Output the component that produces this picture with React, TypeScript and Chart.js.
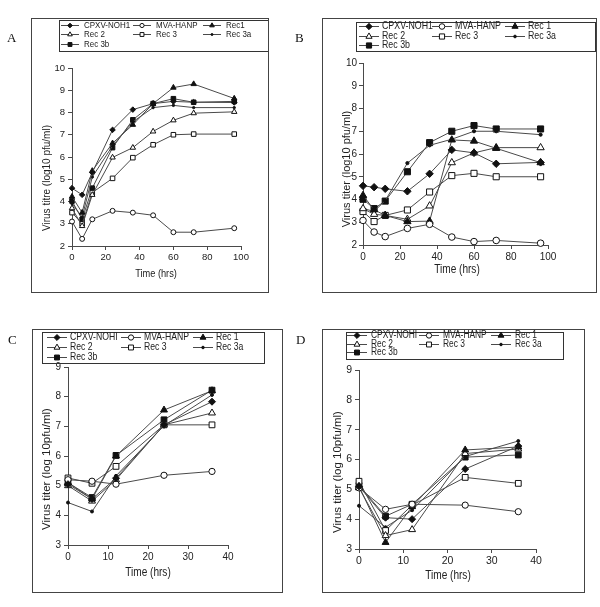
import React, { useEffect, useRef } from "react";
import { Chart, registerables } from "chart.js";
import { drawPoint } from "chart.js/helpers";
Chart.register(...registerables);

const SANS = '"Liberation Sans", Arial, sans-serif';
const XSCALE = 0.84;

// ---------- data ----------
const hoursLong = [0, 6, 12, 24, 36, 48, 60, 72, 96];
const hoursShort = [0, 6, 12, 24, 36];

const labelsA = ["CPXV-NOH1", "MVA-HANP", "Rec1", "Rec 2", "Rec 3", "Rec 3a", "Rec 3b"];
const labelsB = ["CPXV-NOH1", "MVA-HANP", "Rec 1", "Rec 2", "Rec 3", "Rec 3a", "Rec 3b"];
const labelsCD = ["CPXV-NOHI", "MVA-HANP", "Rec 1", "Rec 2", "Rec 3", "Rec 3a", "Rec 3b"];

// Panel A
const aCPXV = [4.6, 4.3, 5.3, 7.22, 8.13, 8.4, 8.5, 8.46, 8.45];
const aMVA = [3.1, 2.32, 3.2, 3.58, 3.5, 3.38, 2.62, 2.62, 2.8];
const aRec1 = [4.22, 3.5, 5.38, 6.62, 7.45, 8.4, 9.12, 9.28, 8.63];
const aRec2 = [3.7, 2.9, 4.3, 5.98, 6.42, 7.15, 7.65, 7.97, 8.03];
const aRec3 = [3.5, 3.0, 4.4, 5.04, 5.97, 6.55, 7.0, 7.03, 7.03];
const aRec3a = [3.9, 3.3, 5.1, 6.5, 7.58, 8.22, 8.32, 8.22, 8.22];
const aRec3b = [4.02, 3.2, 4.6, 6.42, 7.67, 8.4, 8.62, 8.46, 8.5];

// Panel B
const bCPXV = [4.6, 4.54, 4.47, 4.36, 5.13, 6.18, 6.05, 5.57, 5.63];
const bMVA = [3.08, 2.57, 2.37, 2.73, 2.91, 2.35, 2.15, 2.2, 2.08];
const bRec1 = [4.18, 3.55, 3.3, 3.03, 3.05, 6.62, 6.57, 6.25, 5.62];
const bRec2 = [3.6, 3.35, 3.3, 3.13, 3.72, 5.62, 6.05, 6.28, 6.28];
const bRec3 = [3.47, 3.03, 3.3, 3.54, 4.33, 5.05, 5.15, 5.0, 5.0];
const bRec3a = [3.6, 3.48, 3.95, 5.6, 6.38, 6.65, 7.0, 7.0, 6.85];
const bRec3b = [4.01, 3.6, 3.93, 5.22, 6.5, 7.0, 7.25, 7.1, 7.1];

// Panel C
const cCPXV = [5.05, 4.55, 5.25, 7.05, 7.83];
const cMVA = [5.2, 5.15, 5.05, 5.35, 5.48];
const cRec1 = [5.1, 4.55, 6.0, 7.55, 8.2];
const cRec2 = [5.0, 4.48, 5.2, 7.05, 7.45];
const cRec3 = [5.26, 5.08, 5.65, 7.05, 7.05];
const cRec3a = [4.43, 4.13, 5.33, 7.02, 8.06];
const cRec3b = [5.1, 4.6, 6.02, 7.22, 8.22];

// Panel D
const dCPXV = [5.1, 4.05, 4.0, 5.68, 6.45];
const dMVA = [5.05, 4.33, 4.5, 4.47, 4.25];
const dRec1 = [5.1, 3.22, 4.42, 6.32, 6.42];
const dRec2 = [5.05, 3.45, 3.65, 6.2, 6.35];
const dRec3 = [5.27, 3.62, 4.47, 5.4, 5.2];
const dRec3a = [4.45, 3.73, 4.3, 6.1, 6.62];
const dRec3b = [5.13, 4.1, 4.5, 6.08, 6.15];

// ---------- styles ----------
type Style = { pointStyle: string; radius: number; fill: boolean };
const seriesStyles: Style[] = [
  { pointStyle: "rectRot", radius: 3.7, fill: true },
  { pointStyle: "circle", radius: 3.3, fill: false },
  { pointStyle: "triangle", radius: 4.2, fill: true },
  { pointStyle: "triangle", radius: 4.2, fill: false },
  { pointStyle: "rect", radius: 4.3, fill: false },
  { pointStyle: "circle", radius: 1.6, fill: true },
  { pointStyle: "rect", radius: 4.3, fill: true },
];

type Spec = {
  frame: { x: number; y: number; w: number; h: number };
  plot: { l: number; t: number; r: number; b: number };
  xs: number[];
  values: number[][];
  labels: string[];
  xMax: number;
  xStep: number;
  yMin: number;
  yMax: number;
  tickFont: number;
  tickPad: number;
  yTitle: string;
  yTitleFont: number;
  yTitlePos: [number, number];
  xTitleFont: number;
  xTitlePos: [number, number];
  legend: { x: number; y: number; w: number; h: number; cols: number[]; rows: number[]; lineLen: number; textOff: number; font: number };
  markScale: number;
  letter: string;
  letterPos: [number, number];
};

const YW = 30;
const XH = 24;

const specs: Spec[] = [
  {
    frame: { x: 31, y: 18, w: 238, h: 275 },
    plot: { l: 41, t: 50, r: 210, b: 228 },
    xs: hoursLong,
    values: [aCPXV, aMVA, aRec1, aRec2, aRec3, aRec3a, aRec3b],
    labels: labelsA,
    xMax: 100, xStep: 20, yMin: 2, yMax: 10,
    tickFont: 9.5, tickPad: 3,
    yTitle: "Virus titre (log10 pfu/ml)", yTitleFont: 10, yTitlePos: [16, 160],
    xTitleFont: 11, xTitlePos: [125, 256],
    legend: { x: 28, y: 2, w: 211, h: 31, cols: [30, 102, 172], rows: [6.5, 16, 25.5], lineLen: 18, textOff: 23, font: 9.5 },
    markScale: 0.75,
    letter: "A", letterPos: [7, 31],
  },
  {
    frame: { x: 322, y: 18, w: 275, h: 275 },
    plot: { l: 41, t: 45, r: 226, b: 227 },
    xs: hoursLong,
    values: [bCPXV, bMVA, bRec1, bRec2, bRec3, bRec3a, bRec3b],
    labels: labelsB,
    xMax: 100, xStep: 20, yMin: 2, yMax: 10,
    tickFont: 10, tickPad: 2,
    yTitle: "Virus titer (log10 pfu/ml)", yTitleFont: 11, yTitlePos: [25, 151],
    xTitleFont: 12, xTitlePos: [135, 252],
    legend: { x: 34, y: 4, w: 239, h: 29, cols: [37, 110, 183], rows: [8, 18, 27], lineLen: 20, textOff: 23, font: 10.5 },
    markScale: 1,
    letter: "B", letterPos: [295, 31],
  },
  {
    frame: { x: 32, y: 329, w: 251, h: 264 },
    plot: { l: 36, t: 38, r: 196, b: 216 },
    xs: hoursShort,
    values: [cCPXV, cMVA, cRec1, cRec2, cRec3, cRec3a, cRec3b],
    labels: labelsCD,
    xMax: 40, xStep: 10, yMin: 3, yMax: 9,
    tickFont: 10, tickPad: 3,
    yTitle: "Virus titer (log 10pfu/ml)", yTitleFont: 11.5, yTitlePos: [15, 140],
    xTitleFont: 12, xTitlePos: [116, 244],
    legend: { x: 10, y: 3, w: 222, h: 31, cols: [15, 89, 161], rows: [7.7, 17.7, 27.7], lineLen: 20, textOff: 23, font: 10.3 },
    markScale: 0.95,
    letter: "C", letterPos: [8, 333],
  },
  {
    frame: { x: 322, y: 329, w: 263, h: 264 },
    plot: { l: 37, t: 41, r: 214, b: 220 },
    xs: hoursShort,
    values: [dCPXV, dMVA, dRec1, dRec2, dRec3, dRec3a, dRec3b],
    labels: labelsCD,
    xMax: 40, xStep: 10, yMin: 3, yMax: 9,
    tickFont: 10.5, tickPad: 3,
    yTitle: "Virus titer (log 10pfu/ml)", yTitleFont: 11.5, yTitlePos: [16, 143],
    xTitleFont: 12, xTitlePos: [126, 247],
    legend: { x: 24, y: 3, w: 217, h: 27, cols: [25, 97, 169], rows: [6, 14.5, 23], lineLen: 20, textOff: 24, font: 10 },
    markScale: 0.95,
    letter: "D", letterPos: [296, 333],
  },
];

const LINE = "#4a4a4a";
const INK = "#111";
const TEXT = "#222";

function condensedText(ctx: CanvasRenderingContext2D, text: string, x: number, y: number, align: "left" | "center") {
  ctx.save();
  ctx.translate(x, y);
  ctx.scale(XSCALE, 1);
  ctx.textAlign = align;
  ctx.fillText(text, 0, 0);
  ctx.restore();
}

function Panel({ spec }: { spec: Spec }) {
  const ref = useRef<HTMLCanvasElement | null>(null);
  useEffect(() => {
    const canvas = ref.current;
    if (!canvas) return;
    const { frame, plot, legend } = spec;

    const decor = {
      id: "decor",
      afterDraw(ch: any) {
        const ctx: CanvasRenderingContext2D = ch.ctx;
        ctx.save();
        ctx.lineWidth = 1;
        ctx.strokeStyle = "#333";
        ctx.strokeRect(Math.round(legend.x) + 0.5, Math.round(legend.y) + 0.5, Math.round(legend.w), Math.round(legend.h));
        ctx.font = `${legend.font}px ${SANS}`;
        ctx.textBaseline = "middle";
        ch.data.datasets.forEach((ds: any, i: number) => {
          const c = i % 3;
          const r = Math.floor(i / 3);
          const x0 = legend.cols[c];
          const y = Math.round(legend.rows[r]) + 0.5;
          ctx.strokeStyle = LINE;
          ctx.lineWidth = 1;
          ctx.beginPath();
          ctx.moveTo(x0, y);
          ctx.lineTo(x0 + legend.lineLen, y);
          ctx.stroke();
          ctx.fillStyle = ds.pointBackgroundColor;
          ctx.strokeStyle = ds.pointBorderColor;
          drawPoint(ctx, { pointStyle: ds.pointStyle, radius: ds.pointRadius * 0.85, rotation: 0, borderWidth: 1 } as any, x0 + legend.lineLen / 2, y);
          ctx.fillStyle = TEXT;
          condensedText(ctx, ds.label, x0 + legend.textOff, y, "left");
        });
        ctx.fillStyle = TEXT;
        ctx.font = `${spec.xTitleFont}px ${SANS}`;
        condensedText(ctx, "Time (hrs)", spec.xTitlePos[0], spec.xTitlePos[1], "center");
        ctx.translate(spec.yTitlePos[0], spec.yTitlePos[1]);
        ctx.rotate(-Math.PI / 2);
        ctx.textAlign = "center";
        ctx.font = `${spec.yTitleFont}px ${SANS}`;
        ctx.fillText(spec.yTitle, 0, 0);
        ctx.restore();
      },
    };

    const datasets = spec.values.map((vals, i) => {
      const st = seriesStyles[i];
      return {
        label: spec.labels[i],
        data: spec.xs.map((x, j) => ({ x, y: vals[j] })),
        borderColor: LINE,
        borderWidth: 1,
        pointStyle: st.pointStyle,
        pointRadius: st.radius * spec.markScale,
        pointBackgroundColor: st.fill ? INK : "#fff",
        pointBorderColor: INK,
        pointBorderWidth: 1,
        fill: false,
        tension: 0,
        clip: false as any,
      };
    });

    const tickFont = { family: SANS, size: spec.tickFont };
    const chart = new Chart(canvas, {
      type: "line",
      data: { datasets: datasets as any },
      options: {
        animation: false,
        responsive: false,
        events: [],
        layout: {
          padding: {
            left: plot.l - YW,
            top: plot.t,
            right: frame.w - plot.r,
            bottom: frame.h - plot.b - XH,
          },
        },
        plugins: { legend: { display: false }, tooltip: { enabled: false }, title: { display: false } },
        scales: {
          x: {
            type: "linear",
            min: 0,
            max: spec.xMax,
            ticks: { stepSize: spec.xStep, font: tickFont, color: TEXT, padding: 2, maxRotation: 0 },
            grid: { display: true, drawOnChartArea: false, drawTicks: true, tickLength: 4, color: LINE },
            border: { display: true, color: LINE, width: 1 },
            afterFit: (s: any) => { s.height = XH; },
          },
          y: {
            type: "linear",
            min: spec.yMin,
            max: spec.yMax,
            ticks: { stepSize: 1, font: tickFont, color: TEXT, padding: spec.tickPad },
            grid: { display: true, drawOnChartArea: false, drawTicks: true, tickLength: 4, color: LINE },
            border: { display: true, color: LINE, width: 1 },
            afterFit: (s: any) => { s.width = YW; },
          },
        },
      },
      plugins: [decor],
    });
    return () => chart.destroy();
  }, [spec]);

  const { frame } = spec;
  return (
    <>
      <canvas
        ref={ref}
        width={frame.w}
        height={frame.h}
        style={{ position: "absolute", left: frame.x, top: frame.y, width: frame.w, height: frame.h, display: "block" }}
      />
      <div
        style={{
          position: "absolute",
          left: frame.x,
          top: frame.y,
          width: frame.w,
          height: frame.h,
          border: "1px solid #444",
          boxSizing: "border-box",
          pointerEvents: "none",
        }}
      />
      <div
        style={{
          position: "absolute",
          left: spec.letterPos[0],
          top: spec.letterPos[1],
          fontFamily: '"Liberation Serif", "Times New Roman", serif',
          fontSize: 13,
          lineHeight: "13px",
          color: "#111",
        }}
      >
        {spec.letter}
      </div>
    </>
  );
}

export default function App() {
  return (
    <div style={{ position: "absolute", left: 0, top: 0, width: 600, height: 607, background: "#fff", overflow: "hidden" }}>
      {specs.map((s) => (
        <Panel key={s.letter} spec={s} />
      ))}
    </div>
  );
}
